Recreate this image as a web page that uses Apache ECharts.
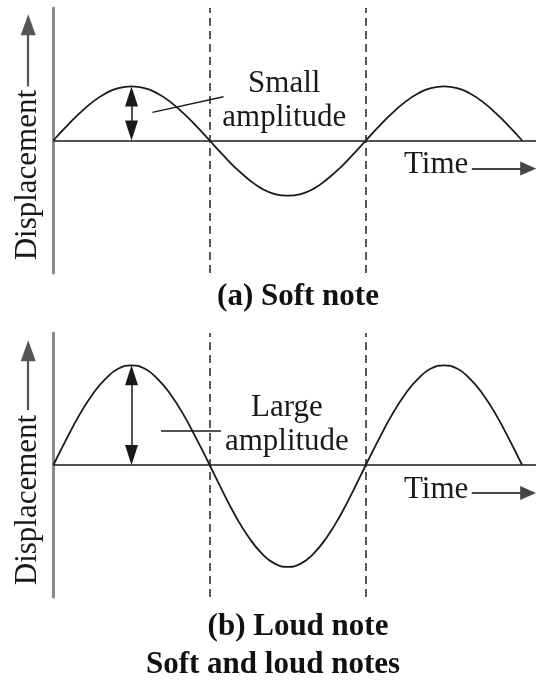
<!DOCTYPE html>
<html>
<head>
<meta charset="utf-8">
<script src="https://cdn.jsdelivr.net/npm/echarts@6/dist/echarts.min.js"></script>
<style>
  html, body { margin: 0; padding: 0; background: #fff; }
  #chart { width: 536px; height: 685px; }
</style>
</head>
<body>
<div id="chart"></div>
<script>
// phase in degrees (time axis) and displacement
const phase = [0, 15, 30, 45, 60, 75, 90, 105, 120, 135, 150, 165, 180, 195, 210, 225, 240, 255, 270,
  285, 300, 315, 330, 345, 360, 375, 390, 405, 420, 435, 450, 465, 480, 495, 510, 525, 540];
const softWave = [0, 0.26, 0.5, 0.71, 0.87, 0.97, 1, 0.97, 0.87, 0.71, 0.5, 0.26, 0, -0.26, -0.51, -0.72,
  -0.89, -0.99, -1.02, -0.99, -0.89, -0.72, -0.51, -0.26, 0, 0.26, 0.5, 0.71, 0.87, 0.97, 1, 0.97, 0.87,
  0.71, 0.5, 0.26, 0];
const loudWave = [0, 0.48, 0.93, 1.31, 1.6, 1.79, 1.85, 1.79, 1.6, 1.31, 0.93, 0.48, 0, -0.49, -0.95, -1.34,
  -1.64, -1.83, -1.89, -1.83, -1.64, -1.34, -0.95, -0.49, 0, 0.48, 0.93, 1.31, 1.6, 1.79, 1.85, 1.79, 1.6,
  1.31, 0.93, 0.48, 0];
const dashedAt = [180, 360];
const panelTitles = ['(a) Soft note', '(b) Loud note'];
const figureTitle = 'Soft and loud notes';
const ampLabels = ['Small\namplitude', 'Large\namplitude'];
const ampPeaks = [1, 1.85];
const leaders = [[[114, 0.52], [196, 0.81]], [[124, 0.63], [193, 0.63]]];
const ampLabelAt = [[266, 0.73], [269, 0.74]];

const INK = '#1a1a1a';
const FONT = "'Liberation Serif', 'DejaVu Serif', serif";
// triangle heads are centred on the end point, so pull ends in by half a head
const HEAD = 0.185;

function panel(i, wave) {
    const tipY = i === 0 ? 2.14 : 2.12;
    return {
        type: 'line', xAxisIndex: i, yAxisIndex: i,
        data: phase.map((p, k) => [p, wave[k]]),
        smooth: true, showSymbol: false, silent: true,
        lineStyle: { color: INK, width: 1.8 },
        z: 3,
        markLine: {
            silent: true, symbol: 'none', animation: false,
            label: { show: false },
            lineStyle: { color: INK, width: 1.5, type: 'solid' },
            data: [
                // zero line
                [{ coord: [0, 0] }, { coord: [556, 0] }],
                // dashed half-period markers
                ...dashedAt.map(x => ({ xAxis: x, lineStyle: { type: [8, 5], color: '#222', width: 1.5 } })),
                // amplitude double arrow
                [{ coord: [90, HEAD], symbol: 'triangle', symbolSize: [13, 20] },
                 { coord: [90, ampPeaks[i] - HEAD], symbol: 'triangle', symbolSize: [13, 20] }],
                // leader line to label
                [{ coord: leaders[i][0] }, { coord: leaders[i][1] }],
                // time arrow
                [{ coord: [482, -0.52], lineStyle: { color: '#444', width: 2.2 } },
                 { coord: [547, -0.52], symbol: 'triangle', symbolSize: [14, 16] }],
                // displacement arrow
                [{ coord: [-29, i === 0 ? 1.0 : 1.02], lineStyle: { color: '#555', width: 2.2 } },
                 { coord: [-29, tipY], symbol: 'triangle', symbolSize: [15, 21] }],
            ],
        },
        markPoint: {
            silent: true, symbol: 'circle', symbolSize: 0, animation: false,
            label: { show: true, position: 'inside', color: INK, fontFamily: FONT, fontSize: 31 },
            data: [
                { coord: ampLabelAt[i], label: { formatter: ampLabels[i], lineHeight: 34, align: 'center' } },
                { coord: [441, i === 0 ? -0.45 : -0.46], label: { formatter: 'Time' } },
                { coord: [-29, i === 0 ? -0.64 : -0.65], label: { formatter: 'Displacement', rotate: 90 } },
            ],
        },
    };
}

const chart = echarts.init(document.getElementById('chart'), null, { renderer: 'canvas' });
const grids = [{ left: 10, right: 0, top: 8, height: 265 }, { left: 10, right: 0, top: 333, height: 264 }];
chart.setOption({
    animation: false,
    backgroundColor: '#fff',
    grid: grids,
    xAxis: grids.map((g, i) => ({
        type: 'value', gridIndex: i, min: -50, max: 556,
        axisLine: { show: false }, axisTick: { show: false }, axisLabel: { show: false }, splitLine: { show: false },
    })),
    yAxis: grids.map((g, i) => ({
        type: 'value', gridIndex: i, min: -2.45, max: 2.45,
        axisLine: { show: true, onZero: true, lineStyle: { color: '#8a8a8a', width: 3 } },
        axisTick: { show: false }, axisLabel: { show: false }, splitLine: { show: false },
    })),
    title: [
        { text: panelTitles[0], left: 298, top: 297 },
        { text: panelTitles[1], left: 298, top: 627 },
        { text: figureTitle, left: 273, top: 665 },
    ].map(t => ({
        ...t, textAlign: 'center', textVerticalAlign: 'middle', padding: 0,
        textStyle: { fontFamily: FONT, fontSize: 31, fontWeight: 'bold', color: '#111' },
    })),
    series: [panel(0, softWave), panel(1, loudWave)],
});
</script>
</body>
</html>
